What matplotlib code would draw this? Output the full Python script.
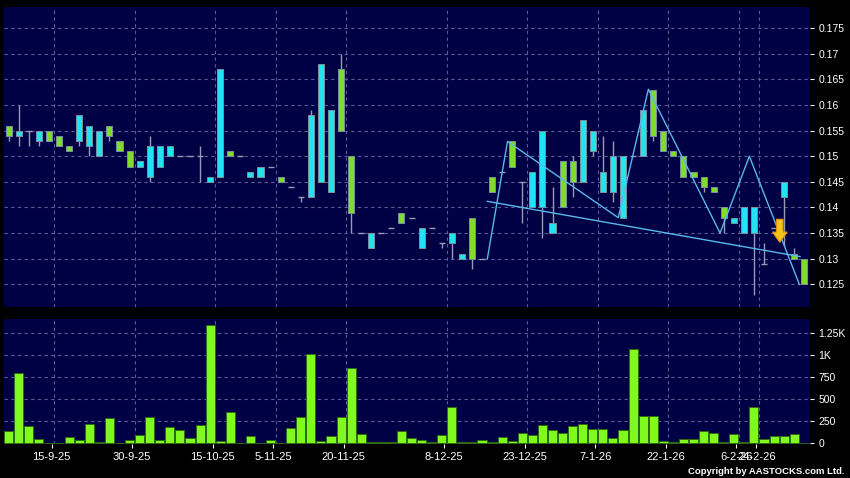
import matplotlib
matplotlib.use("Agg")
import matplotlib.pyplot as plt
from matplotlib.patches import FancyArrow
import numpy as np

plt.rcParams['font.family'] = ['Liberation Sans', 'DejaVu Sans']

# ---------------- data ----------------
opens = [0.154, 0.155, 0.155, 0.155, 0.153, 0.152, 0.151, 0.158, 0.156, 0.155,
         0.154, 0.151, 0.148, 0.149, 0.152, 0.152, 0.152, 0.150, 0.150, 0.150,
         0.146, 0.167, 0.150, 0.150, 0.147, 0.148, 0.148, 0.145, 0.144, 0.142,
         0.158, 0.168, 0.159, 0.155, 0.139, 0.135, 0.135, 0.135, 0.136, 0.137,
         0.138, 0.136, 0.136, 0.133, 0.135, 0.131, 0.130, 0.130, 0.143, 0.147,
         0.148, 0.145, 0.147, 0.155, 0.137, 0.140, 0.145, 0.157, 0.155, 0.147,
         0.150, 0.150, 0.150, 0.159, 0.154, 0.151, 0.150, 0.146, 0.146, 0.144,
         0.143, 0.138, 0.138, 0.140, 0.140, 0.129, 0.136, 0.145, 0.130, 0.125]
closes = [0.156, 0.154, 0.155, 0.153, 0.155, 0.154, 0.152, 0.153, 0.152, 0.150,
          0.156, 0.153, 0.151, 0.148, 0.146, 0.148, 0.150, 0.150, 0.150, 0.150,
          0.145, 0.146, 0.151, 0.150, 0.146, 0.146, 0.148, 0.146, 0.144, 0.142,
          0.142, 0.145, 0.143, 0.167, 0.150, 0.135, 0.132, 0.135, 0.136, 0.139,
          0.138, 0.132, 0.136, 0.133, 0.133, 0.130, 0.138, 0.130, 0.146, 0.147,
          0.153, 0.145, 0.140, 0.140, 0.135, 0.149, 0.149, 0.145, 0.151, 0.143,
          0.143, 0.138, 0.150, 0.150, 0.163, 0.155, 0.151, 0.150, 0.147, 0.146,
          0.144, 0.140, 0.137, 0.135, 0.135, 0.129, 0.136, 0.142, 0.131, 0.130]
highs = [0.156, 0.160, 0.155, 0.155, 0.155, 0.154, 0.152, 0.158, 0.156, 0.155,
         0.156, 0.153, 0.151, 0.149, 0.154, 0.152, 0.152, 0.150, 0.150, 0.152,
         0.146, 0.167, 0.151, 0.150, 0.147, 0.148, 0.148, 0.146, 0.144, 0.142,
         0.159, 0.168, 0.159, 0.170, 0.150, 0.135, 0.135, 0.135, 0.136, 0.139,
         0.138, 0.136, 0.136, 0.133, 0.135, 0.131, 0.138, 0.130, 0.146, 0.147,
         0.153, 0.145, 0.147, 0.155, 0.144, 0.149, 0.150, 0.157, 0.155, 0.154,
         0.153, 0.150, 0.150, 0.159, 0.163, 0.155, 0.151, 0.150, 0.147, 0.146,
         0.144, 0.140, 0.138, 0.140, 0.140, 0.133, 0.136, 0.145, 0.132, 0.130]
lows = [0.153, 0.152, 0.152, 0.152, 0.153, 0.152, 0.151, 0.152, 0.150, 0.150,
        0.153, 0.151, 0.148, 0.148, 0.145, 0.148, 0.150, 0.150, 0.150, 0.145,
        0.145, 0.146, 0.150, 0.150, 0.146, 0.146, 0.148, 0.145, 0.144, 0.141,
        0.142, 0.145, 0.143, 0.155, 0.135, 0.135, 0.132, 0.135, 0.136, 0.137,
        0.138, 0.132, 0.136, 0.132, 0.130, 0.130, 0.128, 0.130, 0.143, 0.147,
        0.148, 0.137, 0.140, 0.134, 0.135, 0.140, 0.142, 0.145, 0.150, 0.143,
        0.141, 0.138, 0.150, 0.150, 0.153, 0.151, 0.150, 0.146, 0.146, 0.143,
        0.143, 0.135, 0.137, 0.135, 0.123, 0.129, 0.136, 0.1325, 0.130, 0.125]
volumes = [136, 796, 201, 49, 5, 5, 72, 38, 216, 15,
           292, 0, 34, 99, 296, 34, 190, 152, 57, 205,
           1342, 23, 349, 0, 80, 0, 42, 2, 171, 296,
           1012, 23, 87, 300, 849, 106, 15, 10, 10, 136,
           57, 34, 15, 89, 416, 15, 20, 38, 15, 69,
           27, 119, 96, 204, 154, 112, 192, 223, 162, 165,
           65, 154, 1066, 304, 308, 31, 15, 46, 54, 135,
           115, 12, 100, 15, 416, 54, 85, 85, 104, 4]

date_labels = ['15-9-25', '30-9-25', '15-10-25', '5-11-25', '20-11-25', '8-12-25',
               '23-12-25', '7-1-26', '22-1-26', '6-2-26', '24-2-26']
date_index = [4, 12, 20, 26, 33, 43, 51, 58, 65, 72, 74]

price_ticks = [0.125, 0.13, 0.135, 0.14, 0.145, 0.15, 0.155, 0.16, 0.165, 0.17, 0.175]
price_tick_labels = ['0.125', '0.13', '0.135', '0.14', '0.145', '0.15', '0.155',
                     '0.16', '0.165', '0.17', '0.175']
vol_ticks = [0, 250, 500, 750, 1000, 1250]
vol_tick_labels = ['0', '250', '500', '750', '1K', '1.25K']

# trend-line annotations
zigzag_idx = [47.53, 49.53, 60.53, 63.52, 70.64, 73.55, 78.51]
zigzag_price = [0.130, 0.1529, 0.138, 0.1631, 0.135, 0.150, 0.125]
trend_idx = [47.53, 78.58]
trend_price = [0.1412, 0.1304]
arrow_idx = 76.57
arrow_top = 0.1377
arrow_tip = 0.1332

# ---------------- style ----------------
BG = '#000000'
PANEL = '#000045'
GRID = '#5c5c92'
UP = '#7fdc2a'
DOWN = '#22e4f0'
WICK = '#9a9ab4'
VOL = '#80fa1e'
LINE = '#5ab8ea'

fig = plt.figure(figsize=(8.5, 4.78), dpi=100, facecolor=BG)
W, H = 850, 478
ax1 = fig.add_axes([4 / W, (H - 307) / H, 806 / W, 300 / H])
ax2 = fig.add_axes([4 / W, (H - 444) / H, 806 / W, 125 / H])

n = len(opens)
idx = np.arange(n)
o = np.array(opens); c = np.array(closes)
hi = np.array(highs); lo = np.array(lows)

for ax in (ax1, ax2):
    ax.set_facecolor(PANEL)
    for s in ax.spines.values():
        s.set_visible(False)
    ax.set_xlim(-0.47, 79.57)
    for d in date_index:
        ax.axvline(d + 0.5, color=GRID, lw=0.8, ls=(0, (3, 3)), zorder=0)
    ax.yaxis.tick_right()
    ax.tick_params(axis='y', colors='white', length=3, width=0.8, pad=3,
                   labelsize=7.5, direction='out')

ax1.set_ylim(0.12056, 0.17916)
ax1.set_yticks(price_ticks)
ax1.set_yticklabels(price_tick_labels)
for t in price_ticks:
    ax1.axhline(t, color=GRID, lw=0.8, ls=(0, (3, 3)), zorder=0)
ax1.set_xticks([])

# wicks
ax1.vlines(idx, lo, hi, color=WICK, lw=1.0, zorder=2)
# bodies
flat = o == c
body_lo = np.minimum(o, c)
body_h = np.abs(c - o)
cols = np.where(c > o, UP, DOWN)
ax1.bar(idx[~flat], body_h[~flat], bottom=body_lo[~flat], width=0.6,
        color=cols[~flat], edgecolor='#7890a0', linewidth=0.7, zorder=3)
ax1.hlines(o[flat], idx[flat] - 0.3, idx[flat] + 0.3, color=WICK, lw=1.0, zorder=3)

# trend lines
ax1.plot(zigzag_idx, zigzag_price, color=LINE, lw=1.0, zorder=4)
ax1.plot(trend_idx, trend_price, color=LINE, lw=1.0, zorder=4)

# arrow
ax1.add_patch(FancyArrow(arrow_idx, arrow_top, 0, arrow_tip - arrow_top,
                         width=0.65, head_width=1.45, head_length=0.002,
                         length_includes_head=True, facecolor='#f5c418',
                         edgecolor='#e09010', linewidth=0.8, zorder=5))

# volume
ax2.set_ylim(-8, 1408)
ax2.set_yticks(vol_ticks)
ax2.set_yticklabels(vol_tick_labels)
for t in vol_ticks[1:]:
    ax2.axhline(t, color=GRID, lw=0.8, ls=(0, (3, 3)), zorder=0)
ax2.bar(idx, volumes, width=0.9, color=VOL, edgecolor='#2f6a12', linewidth=0.7, zorder=3)
ax2.set_xticks([d + 0.25 for d in date_index])
ax2.set_xticklabels(date_labels)
ax2.tick_params(axis='x', colors='white', length=3, width=0.8, pad=3,
                labelsize=8, direction='out')

fig.text(845 / W, 1 - 471 / H, 'Copyright by AASTOCKS.com Ltd.', ha='right',
         va='center', fontsize=6.8, color='white', fontweight='bold')

fig.savefig('out.png', dpi=100, facecolor=BG)
